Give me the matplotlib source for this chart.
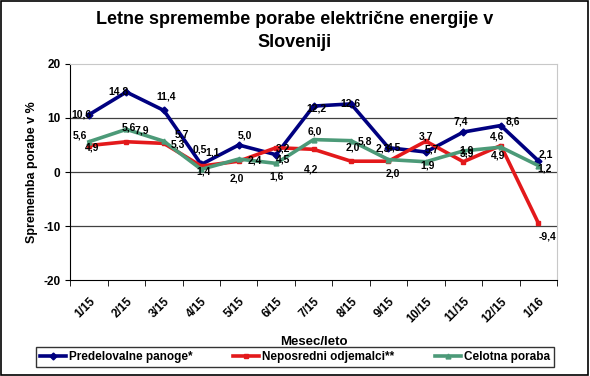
import matplotlib.pyplot as plt
from matplotlib.patches import Rectangle

plt.rcParams["font.family"] = ["Liberation Sans", "DejaVu Sans"]
plt.rcParams["axes.unicode_minus"] = False

# data
months = ["1/15", "2/15", "3/15", "4/15", "5/15", "6/15", "7/15",
          "8/15", "9/15", "10/15", "11/15", "12/15", "1/16"]
predelovalne = [10.6, 14.8, 11.4, 1.4, 5.0, 3.2, 12.2, 12.6, 4.5, 3.7, 7.4, 8.6, 2.1]
neposredni = [4.9, 5.6, 5.3, 1.1, 2.0, 4.5, 4.2, 2.0, 2.0, 5.7, 1.9, 4.9, -9.4]
celotna = [5.6, 7.9, 5.7, 0.5, 2.4, 1.6, 6.0, 5.8, 2.3, 1.9, 3.9, 4.6, 1.2]

# label offsets in pixels (dx right, dy down), per point
off_blue = [(-7, 0), (-8, -1), (2, -14), (2, 7), (6, -9), (7, -6), (3, 2),
            (-1, 0), (6, 0), (0, -16), (-3, -11), (12, -4), (8, -6)]
off_red = [(3, 2), (3, -14), (14, 1), (11, -14), (-2, 17), (7, 12), (-3, 20),
           (2, -14), (4, 12), (6, 8), (3, -11), (-3, 10), (9, 14)]
off_green = [(-9, -6), (15, 1), (18, -7), (-1, -20), (16, 1), (0, 13), (1, -8),
             (14, 1), (-6, -11), (2, 4), (4, 3), (-4, -11), (6, 3)]

series = [
    ("Predelovalne panoge*", predelovalne, "#000080", "D", off_blue),
    ("Neposredni odjemalci**", neposredni, "#E3191B", "s", off_red),
    ("Celotna poraba", celotna, "#4C9A78", "^", off_green),
]

fig = plt.figure(figsize=(5.9, 3.76), dpi=100)
ax = fig.add_axes([0.119, 0.255, 0.825, 0.575])

x = range(len(months))
for name, vals, col, mk, offs in series:
    ax.plot(x, vals, color=col, lw=2.6, marker=mk, ms=3.5, label=name)
    for xi, v, (dx, dy) in zip(x, vals, offs):
        ax.annotate(f"{v:.1f}".replace(".", ","), (xi, v),
                    xytext=(dx * 0.72, -dy * 0.72),
                    textcoords="offset points", ha="center", va="center",
                    fontsize=7.5, fontweight="bold")

ax.set_xlim(-0.5, len(months) - 0.5)
ax.set_ylim(-20, 20)
ax.set_yticks([-20, -10, 0, 10, 20])
ax.set_xticks(list(x))
ax.set_xticklabels(months, rotation=45, ha="right", rotation_mode="anchor")
ax.set_xticks([i - 0.5 for i in range(len(months) + 1)], minor=True)
ax.tick_params(axis="x", which="major", length=0, pad=11)
ax.tick_params(axis="x", which="minor", length=4)
ax.tick_params(labelsize=8.5)
for lab in ax.get_xticklabels() + ax.get_yticklabels():
    lab.set_fontweight("bold")

for yv in (-10, 0, 10):
    ax.axhline(yv, color="#404040", lw=0.9, zorder=0)
ax.spines["top"].set_color("#C8C8C8")
ax.spines["right"].set_color("#C8C8C8")

ax.set_ylabel("Sprememba porabe v %", fontsize=9, fontweight="bold")
ax.set_xlabel("Mesec/leto", fontsize=9.5, fontweight="bold", labelpad=8)
fig.suptitle("Letne spremembe porabe električne energije v\nSloveniji",
             fontsize=13, fontweight="bold", y=0.97, linespacing=1.45)

fig.legend(loc="lower center", bbox_to_anchor=(0.5, 0.008), ncol=3,
           frameon=True, fancybox=False, edgecolor="black",
           handlelength=2.2, handletextpad=0.2, columnspacing=3.5,
           borderpad=0.35, prop={"weight": "bold", "size": 8.5})

fig.patches.append(Rectangle((0.002, 0.003), 0.995, 0.994, transform=fig.transFigure,
                             fill=False, edgecolor="black", lw=1.2))

fig.savefig("out.png", dpi=100)
